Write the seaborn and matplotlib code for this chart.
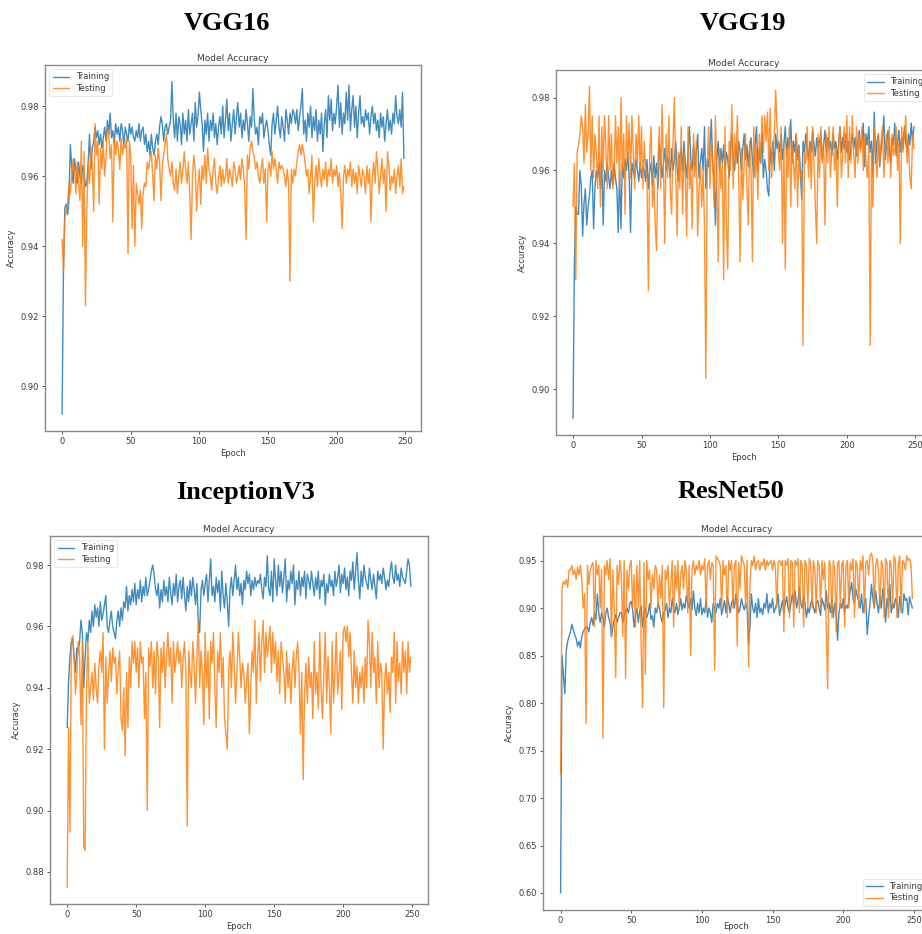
import numpy as np
import pandas as pd
import matplotlib
matplotlib.use("Agg")
import matplotlib.pyplot as plt
import seaborn as sns

# ---------------------------------------------------------------
# Accuracy per epoch (x1000), 250 epochs per run
# ---------------------------------------------------------------
model_names = ["VGG16", "VGG19", "InceptionV3", "ResNet50"]
series_labels = ["Training", "Testing"]

vgg16_train = [
    892, 933, 951, 952, 949, 953, 969, 963, 958, 965,
    962, 958, 964, 960, 958, 963, 961, 957, 958, 964,
    972, 962, 968, 970, 974, 971, 973, 969, 972, 968,
    971, 974, 970, 976, 972, 978, 971, 973, 969, 975,
    972, 974, 970, 975, 973, 969, 974, 972, 970, 975,
    972, 974, 971, 970, 973, 971, 975, 970, 973, 974,
    969, 972, 967, 970, 966, 972, 968, 966, 970, 972,
    969, 974, 977, 975, 970, 974, 975, 972, 974, 976,
    987, 976, 971, 978, 970, 977, 975, 969, 978, 972,
    976, 970, 979, 972, 975, 978, 970, 981, 974, 977,
    984, 979, 975, 967, 976, 972, 978, 970, 976, 973,
    978, 971, 975, 969, 974, 977, 972, 980, 971, 976,
    982, 973, 978, 970, 975, 979, 972, 977, 981, 974,
    978, 971, 976, 973, 979, 975, 970, 977, 974, 985,
    976, 972, 974, 969, 977, 975, 978, 971, 974, 976,
    973, 969, 966, 975, 978, 972, 976, 980, 974, 971,
    977, 974, 970, 979, 976, 972, 978, 975, 979, 978,
    975, 979, 973, 977, 980, 985, 972, 976, 970, 978,
    974, 980, 971, 977, 973, 979, 970, 976, 972, 978,
    967, 975, 979, 971, 983, 976, 982, 973, 978, 975,
    980, 986, 974, 981, 972, 978, 975, 984, 976, 986,
    973, 979, 983, 974, 980, 971, 978, 983, 975, 977,
    974, 979, 976, 978, 972, 977, 980, 975, 978, 973,
    976, 971, 978, 974, 977, 970, 975, 979, 973, 976,
    972, 978, 975, 983, 977, 975, 979, 974, 984, 965,
]
vgg16_test = [
    942, 933, 948, 950, 952, 958, 955, 960, 965, 962,
    955, 964, 958, 953, 970, 940, 967, 923, 950, 964,
    958, 968, 963, 950, 975, 966, 970, 952, 968, 962,
    970, 960, 966, 974, 972, 965, 969, 947, 971, 966,
    970, 968, 962, 971, 966, 969, 968, 971, 938, 970,
    966, 945, 963, 940, 958, 955, 952, 956, 945, 955,
    958, 957, 964, 962, 965, 967, 960, 953, 966, 962,
    968, 964, 953, 963, 966, 969, 972, 965, 962, 960,
    964, 958, 956, 962, 955, 960, 964, 958, 962, 967,
    962, 958, 964, 955, 942, 960, 966, 962, 950, 958,
    962, 952, 963, 959, 966, 958, 968, 962, 960, 956,
    962, 965, 958, 955, 960, 963, 957, 962, 958, 960,
    965, 958, 962, 960, 957, 964, 962, 958, 960, 963,
    959, 965, 962, 957, 942, 966, 962, 968, 970, 967,
    965, 962, 964, 960, 958, 962, 965, 958, 962, 947,
    962, 964, 960, 967, 962, 965, 962, 958, 964, 962,
    963, 962, 960, 957, 962, 958, 930, 962, 958, 962,
    960, 964, 967, 969, 966, 969, 967, 964, 960, 962,
    955, 960, 966, 947, 958, 963, 957, 965, 960, 957,
    962, 959, 964, 957, 962, 960, 965, 958, 962, 960,
    963, 957, 961, 955, 945, 960, 963, 958, 962, 960,
    964, 957, 962, 958, 961, 955, 963, 960, 957, 962,
    960, 955, 963, 958, 962, 947, 960, 964, 958, 967,
    962, 955, 960, 965, 958, 962, 950, 967, 963, 956,
    960, 958, 962, 955, 960, 963, 957, 965, 955, 957,
]

vgg19_train = [
    892, 935, 950, 948, 948, 960, 956, 942, 951, 955,
    945, 950, 953, 958, 960, 944, 955, 960, 958, 962,
    955, 963, 945, 960, 957, 962, 958, 955, 960, 956,
    962, 958, 955, 943, 960, 944, 962, 958, 963, 960,
    965, 958, 943, 962, 960, 958, 963, 960, 957, 962,
    958, 961, 960, 957, 963, 955, 960, 962, 956, 964,
    958, 962, 955, 967, 963, 958, 962, 966, 960, 964,
    962, 958, 966, 960, 963, 968, 961, 957, 964, 966,
    960, 968, 962, 958, 965, 972, 963, 960, 967, 961,
    965, 970, 958, 962, 966, 960, 972, 955, 963, 961,
    966, 974, 962, 958, 945, 963, 968, 960, 966, 962,
    967, 960, 965, 963, 958, 966, 970, 963, 960, 967,
    962, 968, 965, 960, 966, 970, 963, 967, 961, 966,
    969, 963, 958, 967, 972, 960, 966, 962, 970, 958,
    963, 960, 955, 953, 966, 962, 968, 960, 970, 966,
    968, 965, 970, 963, 967, 972, 964, 969, 966, 974,
    962, 968, 965, 970, 963, 967, 960, 952, 968, 965,
    970, 966, 963, 968, 965, 971, 967, 964, 969, 966,
    968, 970, 963, 967, 971, 965, 969, 966, 968, 964,
    970, 966, 968, 963, 967, 972, 965, 969, 966, 970,
    965, 968, 963, 967, 970, 966, 969, 964, 968, 971,
    966, 969, 973, 961, 970, 967, 972, 965, 968, 959,
    976, 962, 968, 970, 961, 966, 969, 975, 963, 967,
    971, 966, 962, 969, 967, 973, 964, 968, 971, 965,
    969, 966, 972, 968, 965, 970, 967, 973, 968, 972,
]
vgg19_test = [
    950, 962, 930, 965, 967, 970, 975, 972, 962, 978,
    965, 970, 983, 960, 975, 958, 970, 965, 955, 975,
    950, 972, 960, 975, 966, 955, 975, 960, 970, 955,
    958, 975, 962, 972, 955, 980, 960, 970, 948, 975,
    962, 973, 958, 975, 965, 955, 970, 962, 975, 960,
    972, 955, 968, 960, 958, 927, 965, 972, 950, 958,
    945, 938, 962, 972, 955, 978, 962, 940, 970, 958,
    975, 955, 948, 968, 980, 960, 942, 965, 955, 972,
    948, 965, 958, 942, 972, 955, 962, 944, 970, 958,
    968, 942, 955, 962, 950, 960, 945, 903, 960, 972,
    955, 968, 962, 950, 975, 958, 935, 966, 955, 962,
    930, 972, 945, 933, 968, 960, 978, 955, 970, 962,
    975, 958, 935, 966, 952, 962, 970, 955, 945, 968,
    960, 935, 972, 958, 966, 952, 970, 962, 975, 965,
    975, 968, 976, 960, 977, 958, 966, 970, 982, 972,
    965, 960, 972, 940, 968, 933, 966, 958, 972, 950,
    968, 962, 955, 970, 950, 966, 958, 960, 912, 965,
    962, 972, 958, 968, 955, 972, 962, 950, 940, 970,
    958, 972, 962, 968, 945, 970, 962, 972, 958, 966,
    972, 960, 966, 950, 968, 972, 958, 965, 972, 962,
    975, 958, 972, 962, 975, 965, 958, 972, 962, 970,
    965, 972, 960, 970, 962, 958, 968, 912, 966, 950,
    972, 965, 958, 970, 962, 968, 972, 958, 966, 970,
    962, 972, 958, 970, 964, 966, 972, 960, 968, 940,
    972, 965, 970, 975, 962, 968, 958, 955, 970, 966,
]

inception_train = [
    927, 942, 950, 955, 956, 950, 945, 953, 952, 955,
    962, 958, 940, 950, 958, 955, 962, 958, 965, 960,
    967, 963, 966, 960, 968, 962, 964, 967, 970, 960,
    958, 962, 965, 960, 958, 956, 962, 965, 960, 966,
    962, 968, 966, 973, 965, 970, 967, 972, 968, 974,
    967, 972, 969, 975, 968, 973, 970, 976, 970, 972,
    975, 978, 980, 977, 972, 970, 974, 966, 972, 968,
    975, 970, 973, 968, 976, 971, 967, 974, 970, 977,
    968, 973, 975, 969, 976, 970, 965, 973, 968, 975,
    970, 976, 972, 967, 974, 962, 958, 972, 975, 970,
    974, 977, 968, 975, 982, 970, 973, 968, 976, 971,
    975, 965, 978, 970, 966, 974, 968, 960, 972, 976,
    970, 975, 980, 972, 976, 970, 974, 967, 975, 972,
    978, 974, 977, 970, 975, 972, 976, 973, 975, 974,
    977, 972, 969, 976, 973, 983, 972, 970, 978, 968,
    982, 975, 970, 980, 973, 978, 971, 976, 982, 968,
    975, 972, 978, 974, 980, 967, 975, 972, 978, 970,
    976, 973, 978, 969, 977, 975, 972, 978, 974, 970,
    976, 972, 978, 969, 975, 973, 977, 967, 974, 971,
    977, 973, 975, 970, 978, 973, 976, 980, 971, 977,
    974, 979, 972, 976, 970, 978, 975, 981, 972, 978,
    984, 975, 969, 978, 973, 980, 976, 974, 972, 979,
    975, 972, 977, 973, 969, 978, 975, 977, 974, 979,
    976, 972, 975, 973, 978, 981, 976, 974, 980, 975,
    977, 973, 979, 976, 975, 974, 978, 982, 980, 973,
]
inception_test = [
    875, 927, 893, 955, 957, 950, 938, 945, 955, 950,
    928, 955, 888, 887, 940, 955, 935, 940, 945, 936,
    948, 940, 935, 947, 952, 945, 958, 920, 950, 935,
    945, 952, 942, 953, 948, 950, 938, 946, 952, 930,
    926, 940, 918, 945, 927, 950, 940, 955, 948, 955,
    945, 953, 940, 955, 948, 950, 930, 945, 900, 953,
    947, 955, 940, 952, 938, 955, 950, 927, 953, 945,
    955, 940, 950, 958, 947, 953, 935, 955, 945, 950,
    955, 948, 952, 940, 950, 955, 945, 895, 952, 945,
    940, 955, 948, 935, 950, 962, 940, 952, 945, 928,
    958, 940, 952, 930, 955, 948, 958, 940, 927, 952,
    945, 958, 940, 950, 930, 925, 920, 945, 952, 940,
    958, 948, 935, 945, 958, 950, 940, 948, 945, 935,
    942, 948, 925, 940, 952, 945, 962, 935, 950, 958,
    942, 955, 962, 945, 958, 950, 955, 960, 945, 958,
    948, 955, 942, 952, 938, 955, 950, 945, 935, 952,
    940, 948, 935, 945, 952, 940, 950, 955, 945, 925,
    945, 910, 938, 948, 935, 950, 940, 945, 930, 955,
    938, 945, 933, 958, 940, 930, 945, 958, 935, 950,
    940, 925, 955, 935, 945, 958, 938, 945, 952, 933,
    958, 960, 955, 960, 950, 958, 945, 935, 952, 940,
    947, 935, 945, 940, 947, 935, 950, 940, 962, 955,
    940, 958, 945, 950, 935, 955, 940, 948, 945, 920,
    942, 948, 938, 945, 932, 950, 945, 958, 935, 955,
    942, 948, 938, 955, 945, 952, 938, 955, 945, 950,
]

resnet_train = [
    600, 850, 830, 810, 855, 865, 870, 875, 883, 877,
    872, 868, 860, 865, 858, 870, 875, 878, 880, 880,
    875, 885, 890, 882, 895, 888, 915, 895, 885, 895,
    890, 880, 895, 900, 890, 885, 870, 880, 888, 893,
    885, 890, 895, 895, 885, 892, 898, 900, 895, 905,
    907, 898, 880, 893, 900, 885, 897, 902, 880, 895,
    900, 890, 895, 905, 888, 892, 880, 900, 895, 905,
    900, 890, 885, 895, 898, 905, 890, 900, 895, 910,
    900, 895, 905, 893, 900, 910, 898, 905, 900, 913,
    905, 900, 910, 898, 918, 900, 892, 905, 895, 910,
    893, 900, 895, 910, 890, 900, 895, 885, 905, 900,
    895, 905, 900, 910, 893, 900, 908, 895, 912, 905,
    895, 905, 910, 900, 915, 905, 895, 900, 910, 903,
    898, 905, 900, 862, 880, 915, 900, 895, 905, 890,
    910, 895, 900, 893, 905, 900, 915, 895, 905, 900,
    910, 895, 900, 905, 915, 892, 900, 908, 895, 905,
    912, 900, 895, 905, 915, 905, 918, 900, 908, 922,
    905, 900, 912, 905, 890, 900, 895, 905, 910, 900,
    895, 905, 908, 900, 892, 910, 905, 898, 918, 900,
    905, 895, 910, 890, 905, 900, 866, 895, 905, 900,
    910, 895, 903, 900, 908, 918, 927, 910, 905, 920,
    912, 908, 900, 915, 895, 905, 910, 872, 890, 905,
    925, 910, 900, 918, 905, 895, 912, 900, 920, 908,
    885, 910, 900, 925, 895, 905, 900, 910, 905, 890,
    912, 900, 895, 915, 908, 910, 893, 912, 905, 900,
]
resnet_test = [
    725, 920, 928, 925, 930, 922, 940, 940, 945, 935,
    940, 930, 943, 935, 945, 930, 900, 915, 778, 945,
    925, 940, 945, 948, 880, 950, 935, 945, 900, 940,
    763, 945, 935, 950, 930, 952, 870, 940, 900, 827,
    945, 925, 950, 935, 870, 950, 826, 940, 920, 945,
    950, 900, 935, 880, 945, 900, 950, 860, 795, 948,
    830, 950, 930, 940, 900, 935, 920, 945, 940, 900,
    935, 910, 945, 795, 940, 930, 945, 900, 925, 950,
    880, 945, 920, 950, 900, 935, 945, 920, 950, 940,
    895, 945, 850, 940, 950, 935, 945, 940, 950, 935,
    945, 940, 952, 900, 945, 950, 930, 948, 945, 835,
    955, 952, 950, 945, 900, 950, 935, 945, 890, 950,
    940, 950, 900, 945, 950, 860, 948, 920, 955, 950,
    945, 900, 950, 838, 925, 950, 945, 955, 940, 948,
    950, 940, 948, 945, 952, 940, 950, 945, 948, 950,
    940, 950, 945, 900, 948, 950, 945, 950, 875, 950,
    945, 952, 890, 950, 948, 880, 950, 945, 952, 895,
    950, 945, 880, 950, 945, 900, 952, 948, 900, 950,
    940, 895, 950, 945, 900, 950, 930, 948, 880, 815,
    950, 945, 890, 950, 940, 875, 948, 950, 900, 945,
    950, 880, 945, 950, 900, 948, 940, 952, 890, 950,
    945, 900, 950, 940, 955, 895, 948, 950, 935, 955,
    958, 950, 900, 945, 952, 940, 900, 950, 945, 890,
    952, 948, 890, 950, 945, 900, 955, 950, 890, 945,
    955, 895, 950, 948, 940, 955, 950, 952, 945, 910,
]

runs = {
    "VGG16": (vgg16_train, vgg16_test),
    "VGG19": (vgg19_train, vgg19_test),
    "InceptionV3": (inception_train, inception_test),
    "ResNet50": (resnet_train, resnet_test),
}

# ---------------------------------------------------------------
# Figure layout: four framed panels, each with a heading
# ---------------------------------------------------------------
sns.set_style("white")
plt.rcParams["font.family"] = ["DejaVu Sans"]

W, H = 922, 934
fig = plt.figure(figsize=(W / 100, H / 100), dpi=100)

# axes boxes in pixels: left, top, right, bottom
boxes = {
    "VGG16": (45, 65, 421, 431),
    "VGG19": (556, 70, 931, 435),
    "InceptionV3": (50, 536, 428, 904),
    "ResNet50": (543, 536, 930, 910),
}
headings = {
    "VGG16": (227, 23),
    "VGG19": (743, 23),
    "InceptionV3": (245, 492),
    "ResNet50": (731, 492),
}
legend_loc = {
    "VGG16": "upper left",
    "VGG19": "upper right",
    "InceptionV3": "upper left",
    "ResNet50": "lower right",
}
xlabel_pad = {"VGG16": 2, "VGG19": 2, "InceptionV3": 2, "ResNet50": -2}

text_col = "#3a3a3a"
frame_col = "#8a8a8a"
colors = ["#1f77b4", "#ff7f0e"]

for name in model_names:
    l, t, r, b = boxes[name]
    ax = fig.add_axes([l / W, 1 - b / H, (r - l) / W, (b - t) / H])
    train, test = runs[name]
    df = pd.DataFrame({
        "Epoch": np.arange(len(train)),
        "Training": np.array(train) / 1000.0,
    })
    df_t = pd.DataFrame({
        "Epoch": np.arange(len(test)),
        "Testing": np.array(test) / 1000.0,
    })
    sns.lineplot(data=df, x="Epoch", y="Training", ax=ax, color=colors[0],
                 linewidth=1.0, alpha=0.85, label=series_labels[0])
    sns.lineplot(data=df_t, x="Epoch", y="Testing", ax=ax, color=colors[1],
                 linewidth=1.0, alpha=0.85, label=series_labels[1])
    ax.margins(x=0.05, y=0.05)
    ax.set_xticks([0, 50, 100, 150, 200, 250])
    ax.set_title("Model Accuracy", fontsize=6.5, color=text_col, pad=3)
    ax.set_xlabel("Epoch", fontsize=6, color=text_col,
                  labelpad=xlabel_pad[name])
    ax.set_ylabel("Accuracy", fontsize=6, color=text_col, labelpad=3)
    ax.tick_params(axis="both", labelsize=6, colors=text_col, length=2.5,
                   width=0.6, direction="out", bottom=True, left=True, pad=2)
    for sp in ax.spines.values():
        sp.set_color(frame_col)
        sp.set_linewidth(1.0)
    leg = ax.legend(loc=legend_loc[name], fontsize=6, frameon=True,
                    handlelength=2.0, borderpad=0.4, labelspacing=0.3)
    leg.get_frame().set_edgecolor("#dddddd")
    leg.get_frame().set_linewidth(0.6)
    for txt in leg.get_texts():
        txt.set_color(text_col)

    hx, hy = headings[name]
    fig.text(hx / W, 1 - hy / H, name, ha="center", va="center",
             fontsize=19, fontweight="bold", family="Liberation Serif",
             color="black")

fig.savefig("out.png", dpi=100)
